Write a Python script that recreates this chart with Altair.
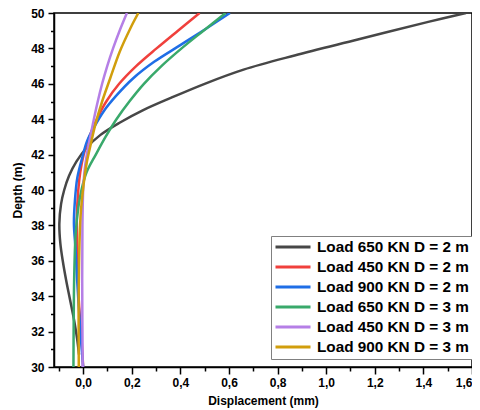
import altair as alt
import pandas as pd

# ---- data ----
series_names = [
    "Load 650 KN D = 2 m",
    "Load 450 KN D = 2 m",
    "Load 900 KN D = 2 m",
    "Load 650 KN D = 3 m",
    "Load 450 KN D = 3 m",
    "Load 900 KN D = 3 m",
]
series_colors = ["#474747", "#f0403c", "#1f6ee6", "#39a96b", "#b57fe6", "#d19e0c"]

depth_650_2 = [50, 49.5, 48.5, 47.6, 46.8, 46.0, 45.2, 44.5, 43.8, 43.1, 42.4, 41.6, 40.8, 40.0,
               39.2, 38.1, 37.0, 36.0, 34.9, 33.8, 32.7, 31.6, 30.7]
disp_650_2 = [1.575, 1.42, 1.13, 0.87, 0.66, 0.50, 0.36, 0.245, 0.15, 0.07, 0.015, -0.028, -0.058,
              -0.078, -0.091, -0.098, -0.094, -0.084, -0.070, -0.054, -0.038, -0.025, -0.017]

depth_450_2 = [50, 49, 48, 47, 46, 45, 44, 43, 42, 41, 40, 38.5, 36.6, 33.8, 31.0, 30]
disp_450_2 = [0.479, 0.390, 0.302, 0.218, 0.148, 0.095, 0.056, 0.025, 0.002, -0.012, -0.020, -0.026,
              -0.024, -0.018, -0.004, 0.0]

depth_900_2 = [50, 49.1, 48.17, 47.24, 46.3, 45.37, 44.44, 43.5, 42.76, 41.82, 40.7, 39.39, 38.09,
               36.6, 34.73, 31.93, 30]
disp_900_2 = [0.604, 0.504, 0.398, 0.292, 0.205, 0.139, 0.084, 0.043, 0.016, -0.004, -0.024, -0.034,
              -0.038, -0.031, -0.024, -0.011, 0.0]

depth_650_3 = [50, 49.0, 48.0, 47.0, 46.0, 45.0, 44.0, 43.0, 42.0, 41.0, 40.0, 39.0, 37.5, 35.0, 32.5, 30]
disp_650_3 = [0.586, 0.495, 0.405, 0.322, 0.250, 0.190, 0.137, 0.092, 0.052, 0.014, -0.007, -0.020,
              -0.031, -0.037, -0.039, -0.040]

depth_450_3 = [50, 49, 48, 47, 46, 45, 44, 43, 42, 41, 40, 38, 35, 30]
disp_450_3 = [0.180, 0.150, 0.123, 0.099, 0.078, 0.060, 0.044, 0.029, 0.015, 0.005, 0.0, -0.003,
              -0.004, -0.002]

depth_900_3 = [50, 49.1, 47.8, 46.3, 45.0, 43.69, 42.39, 41.64, 40.33, 38.46, 34.73, 30]
disp_900_3 = [0.227, 0.193, 0.150, 0.111, 0.078, 0.050, 0.028, 0.016, 0.002, -0.011, -0.018, -0.018]

x_ticks = [-0.1, 0.0, 0.1, 0.2, 0.3, 0.4, 0.5, 0.6, 0.7, 0.8, 0.9, 1.0, 1.1, 1.2, 1.3, 1.4, 1.5, 1.6]
y_ticks = [30, 31, 32, 33, 34, 35, 36, 37, 38, 39, 40, 41, 42, 43, 44, 45, 46, 47, 48, 49, 50]

all_depths = [depth_650_2, depth_450_2, depth_900_2, depth_650_3, depth_450_3, depth_900_3]
all_disps = [disp_650_2, disp_450_2, disp_900_2, disp_650_3, disp_450_3, disp_900_3]

rows = []
for name, ds, xs in zip(series_names, all_depths, all_disps):
    for i, (d, x) in enumerate(zip(ds, xs)):
        rows.append({"series": name, "depth": d, "disp": x, "idx": i})
df = pd.DataFrame(rows)

FONT = "Liberation Sans"
major_x = "abs(round(datum.value*10)) % 2 == 0"
major_y = "datum.value % 2 == 0"

x_axis = alt.Axis(
    values=x_ticks,
    title="Displacement (mm)",
    labelExpr=f"{major_x} ? replace(format(datum.value, '.1f'), '.', ',') : ''",
    tickSize={"condition": {"test": major_x, "value": 7}, "value": 4},
    labelFlush=True,
    labelOverlap=False,
    grid=False,
    labelPadding=3,
    titlePadding=7,
)
y_axis = alt.Axis(
    values=y_ticks,
    title="Depth (m)",
    labelExpr=f"{major_y} ? format(datum.value, 'd') : ''",
    tickSize={"condition": {"test": major_y, "value": 6}, "value": 3.5},
    labelOverlap=False,
    grid=False,
    labelPadding=4,
    titlePadding=6,
)

chart = (
    alt.Chart(df)
    .mark_line(strokeWidth=2.5, interpolate="catmull-rom", clip=True)
    .encode(
        x=alt.X("disp:Q", scale=alt.Scale(domain=[-0.12, 1.6], nice=False, zero=False), axis=x_axis),
        y=alt.Y("depth:Q", scale=alt.Scale(domain=[30, 50], nice=False, zero=False), axis=y_axis),
        color=alt.Color(
            "series:N",
            scale=alt.Scale(domain=series_names, range=series_colors),
            sort=series_names,
            legend=alt.Legend(
                title=None,
                orient="none",
                legendX=217,
                legendY=223,
                symbolType="stroke",
                symbolSize=1225,
                symbolStrokeWidth=3,
                labelFont=FONT,
                labelFontSize=15.3,
                labelFontWeight="bold",
                labelColor="black",
                labelLimit=300,
                labelOffset=5,
                strokeColor="#808080",
                fillColor="white",
                padding=3,
                rowPadding=3,
                clipHeight=16,
            ),
        ),
        order="idx:Q",
    )
    .properties(
        width=418,
        height=354,
        autosize=alt.AutoSizeParams(type="none"),
        padding={"left": 46, "top": 5, "right": 0, "bottom": 44},
    )
    .configure_view(stroke="black", strokeWidth=1.5)
    .configure_axis(
        domainColor="black",
        domainWidth=1.5,
        tickColor="black",
        tickWidth=1.5,
        labelFont=FONT,
        labelFontSize=12,
        labelFontWeight="bold",
        labelColor="black",
        titleFont=FONT,
        titleFontSize=12,
        titleFontWeight="bold",
        titleColor="black",
    )
)

chart.save("out.html", embed_options={"renderer": "svg", "actions": False})
